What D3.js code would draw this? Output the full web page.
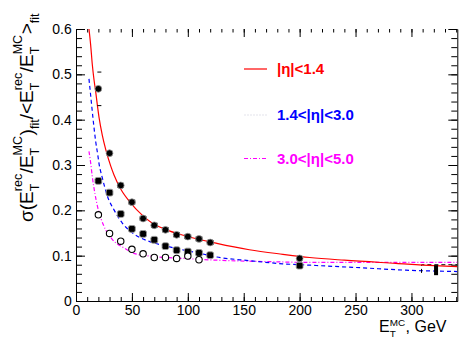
<!DOCTYPE html>
<html><head><meta charset="utf-8">
<script src="https://cdn.jsdelivr.net/npm/d3@7"></script>
<style>
html,body{margin:0;padding:0;background:#fff;}
svg{display:block;font-family:"Liberation Sans",Arial,sans-serif;}
</style></head>
<body>
<script>
// ---------------- data ----------------
const xTickLabels = [0, 50, 100, 150, 200, 250, 300];
const yTickLabels = [0, 0.1, 0.2, 0.3, 0.4, 0.5, 0.6];
const seriesNames = ["|η|<1.4", "1.4<|η|<3.0", "3.0<|η|<5.0"];

// |eta|<1.4 (filled circles)
const centralE     = [20, 30, 40, 50, 60, 70, 80, 90, 100, 110, 120, 200];
const centralSigma = [0.468, 0.326, 0.255, 0.218, 0.182, 0.167, 0.157, 0.146, 0.142, 0.137, 0.129, 0.094];
const centralEerr  = [0, 0, 2.5, 2.5, 2.5, 2.5, 2.5, 2.5, 2.5, 2.5, 2.5, 0];
const centralSerrFirst = 0.037;
// 1.4<|eta|<3.0 (filled squares)
const endcapE      = [20, 30, 40, 50, 60, 70, 80, 90, 100, 110, 120, 200];
const endcapSigma  = [0.265, 0.239, 0.192, 0.159, 0.148, 0.135, 0.121, 0.112, 0.109, 0.106, 0.101, 0.078];
// 3.0<|eta|<5.0 (open circles)
const forwardE     = [20, 30, 40, 50, 60, 70, 80, 90, 100, 110];
const forwardSigma = [0.190, 0.149, 0.132, 0.114, 0.104, 0.096, 0.096, 0.094, 0.099, 0.091];
// point near the right edge
const extraE = [322];
const extraSigma = [0.068];
const boxEdges = [309, 341];
const boxLevels = [0.062, 0.080];

// fitted curves
const centralFitE = [11.6,13.1,14.6,16.1,17.6,19.1,20.6,23.5,26.5,31,34,40,49,59,68,81,96,126,155,185,209,240,286,320,341];
const centralFitS = [0.600,0.565,0.521,0.488,0.462,0.432,0.405,0.366,0.335,0.298,0.278,0.247,0.216,0.190,0.172,0.157,0.145,0.127,0.113,0.103,0.096,0.090,0.083,0.078,0.076];
const endcapFitE  = [11.6,13.1,15.5,17.6,19.5,20.6,23.5,28,34,41.4,49,58,66,81,96,111,126,155,185,209,250,295,341];
const endcapFitS  = [0.490,0.454,0.396,0.352,0.322,0.303,0.272,0.232,0.201,0.172,0.153,0.139,0.131,0.121,0.1125,0.105,0.097,0.089,0.082,0.079,0.074,0.068,0.065];
const forwardFitE = [11.6,13.1,14.6,17,19.1,25,32.4,43,52,66,96,126,170,212,341];
const forwardFitS = [0.330,0.305,0.274,0.236,0.210,0.165,0.136,0.117,0.105,0.099,0.094,0.090,0.087,0.085,0.085];

// ---------------- chart ----------------
const W = 470, H = 345;
const L = 76, R = 457.3, T = 29, B = 301;
const svg = d3.select("body").append("svg").attr("width", W).attr("height", H);
const x = d3.scaleLinear().domain([0, 341]).range([L, R]);
const y = d3.scaleLinear().domain([0, 0.6]).range([B, T]);

const red = "#ff0000", blue = "#0000ff", mag = "#ff00ff";

svg.append("defs").append("clipPath").attr("id", "clip")
  .append("rect").attr("x", L).attr("y", T).attr("width", R - L).attr("height", B - T);

const xMinor = d3.range(0, 341, 10);
const yMinor = d3.range(0, 0.6001, 0.02);
function styleAxis(g){ g.selectAll("path,line").attr("stroke","#000").attr("stroke-width",1); g.selectAll("text").attr("fill","#000").style("font-size","14px").style("font-family","Liberation Sans, Arial, sans-serif"); }

svg.append("g").attr("transform", `translate(0,${B})`)
  .call(d3.axisBottom(x).tickValues(xMinor).tickSize(-4).tickSizeOuter(0).tickFormat(""))
  .call(styleAxis);
svg.append("g").attr("transform", `translate(0,${B})`)
  .call(d3.axisBottom(x).tickValues(xTickLabels).tickSize(-8).tickSizeOuter(0).tickPadding(4).tickFormat(d3.format("d")))
  .call(styleAxis).call(g => g.select(".domain").remove());
svg.append("g").attr("transform", `translate(0,${T})`)
  .call(d3.axisTop(x).tickValues(xMinor).tickSize(-3.5).tickFormat(""))
  .call(styleAxis).call(g => g.select(".domain").remove());
svg.append("g").attr("transform", `translate(0,${T})`)
  .call(d3.axisTop(x).tickValues(xTickLabels).tickSize(-8).tickFormat(""))
  .call(styleAxis).call(g => g.select(".domain").remove());
svg.append("g").attr("transform", `translate(${L},0)`)
  .call(d3.axisLeft(y).tickValues(yMinor).tickSize(-6).tickSizeOuter(0).tickFormat(""))
  .call(styleAxis);
svg.append("g").attr("transform", `translate(${L},0)`)
  .call(d3.axisLeft(y).tickValues(yTickLabels).tickSize(-9).tickSizeOuter(0).tickPadding(4.3).tickFormat(d => d === 0 ? "0" : d3.format(".1f")(d)))
  .call(styleAxis).call(g => g.select(".domain").remove());
svg.append("g").attr("transform", `translate(${R},0)`)
  .call(d3.axisRight(y).tickValues(yMinor).tickSize(-6).tickSizeOuter(0).tickFormat(""))
  .call(styleAxis);
svg.append("g").attr("transform", `translate(${R},0)`)
  .call(d3.axisRight(y).tickValues(yTickLabels).tickSize(-9).tickSizeOuter(0).tickFormat(""))
  .call(styleAxis).call(g => g.select(".domain").remove());

const plot = svg.append("g").attr("clip-path", "url(#clip)");
const line = d3.line().x(d => x(d[0])).y(d => y(d[1])).curve(d3.curveMonotoneX);
function curve(E, S, color, dash){
  plot.append("path").datum(E.map((e, i) => [e, S[i]]))
    .attr("d", line).attr("fill", "none").attr("stroke", color)
    .attr("stroke-width", 1.2).attr("stroke-dasharray", dash);
}
curve(forwardFitE, forwardFitS, mag, "4,2,1,2");
curve(endcapFitE, endcapFitS, blue, "4,3");

plot.append("path")
  .attr("d", `M${x(boxEdges[0])},${y(boxLevels[0])}V${y(boxLevels[1])}H${x(boxEdges[1])}`)
  .attr("fill", "none").attr("stroke", "#000").attr("stroke-width", 1).attr("stroke-dasharray", "4,3");

curve(centralFitE, centralFitS, red, null);

plot.selectAll(".sq").data(endcapE.map((e, i) => [e, endcapSigma[i]])).join("rect")
  .attr("x", d => x(d[0]) - 3.4).attr("y", d => y(d[1]) - 3.4)
  .attr("width", 6.8).attr("height", 6.8).attr("rx", 1.8)
  .attr("fill", "#000").attr("stroke", "#999").attr("stroke-width", 0.9);
plot.selectAll(".oc").data(forwardE.map((e, i) => [e, forwardSigma[i]])).join("circle")
  .attr("cx", d => x(d[0])).attr("cy", d => y(d[1])).attr("r", 3.2)
  .attr("fill", "#fff").attr("stroke", "#000").attr("stroke-width", 1.1);
const cdat = centralE.map((e, i) => [e, centralSigma[i], centralEerr[i]]);
const eb = plot.append("g").attr("stroke", "#000").attr("stroke-width", 1);
cdat.filter(d => d[2] > 0).forEach(d => {
  const x0 = x(d[0] - d[2]), x1 = x(d[0] + d[2]), yy = y(d[1]);
  eb.append("line").attr("x1", x0).attr("x2", x1).attr("y1", yy).attr("y2", yy);
  eb.append("line").attr("x1", x0).attr("x2", x0).attr("y1", yy - 2.5).attr("y2", yy + 2.5);
  eb.append("line").attr("x1", x1).attr("x2", x1).attr("y1", yy - 2.5).attr("y2", yy + 2.5);
});
[centralSigma[0] + centralSerrFirst, centralSigma[0] - centralSerrFirst].forEach(s => {
  eb.append("line").attr("x1", x(centralE[0]) - 1).attr("x2", x(centralE[0]) + 3)
    .attr("y1", y(s)).attr("y2", y(s));
});
plot.selectAll(".fc").data(cdat).join("circle")
  .attr("cx", d => x(d[0])).attr("cy", d => y(d[1])).attr("r", 3.4)
  .attr("fill", "#000").attr("stroke", "#999").attr("stroke-width", 0.8);
plot.selectAll(".ex").data(extraE.map((e, i) => [e, extraSigma[i]])).join("rect")
  .attr("x", d => x(d[0]) - 2).attr("y", d => y(d[1]) - 5)
  .attr("width", 4).attr("height", 10).attr("fill", "#000");

const legend = [
  {name: seriesNames[0], color: red, dash: null, y: 69, lineColor: red},
  {name: seriesNames[1], color: blue, dash: "2,1", y: 115, lineColor: "#e4e4ec"},
  {name: seriesNames[2], color: mag, dash: "4,2,1,2", y: 158.5, lineColor: mag}
];
legend.forEach(l => {
  svg.append("line").attr("x1", 244).attr("x2", 267).attr("y1", l.y).attr("y2", l.y)
    .attr("stroke", l.lineColor).attr("stroke-width", 1.2).attr("stroke-dasharray", l.dash);
  svg.append("text").attr("x", 277).attr("y", l.y).attr("dy", "0.36em")
    .attr("fill", l.color).style("font-size", "15px").style("font-weight", "bold").text(l.name);
});

function rich(g, items, size, supOff, subOff, ratio){
  let pos = 0;
  const small = size * ratio;
  const add = (txt, px, py, fs) => g.append("text").attr("x", px).attr("y", py).style("font-size", fs + "px").attr("fill", "#000").text(txt);
  items.forEach(it => {
    if (it[0] === "m") { const t = add(it[1], pos, 0, size); pos += t.node().getComputedTextLength(); }
    else if (it[0] === "ss") {
      const a = add(it[1], pos, size * subOff, small);
      const b = add(it[2], pos, -size * supOff, small);
      pos += Math.max(a.node().getComputedTextLength(), b.node().getComputedTextLength()) + 0.5;
    } else if (it[0] === "s") { const t = add(it[1], pos, size * subOff, small); pos += t.node().getComputedTextLength(); }
  });
  return pos;
}
const yl = svg.append("g").attr("transform", "translate(33,222) rotate(-90)");
rich(yl, [["m","σ("],["m","E"],["ss","T","rec"],["m","/E"],["ss","T","MC"],["m",")"],["s","fit"],
          ["m","/<E"],["ss","T","rec"],["m","/E"],["ss","T","MC"],["m",">"],["s","fit"]], 19, 0.58, 0.3, 0.66);
const xl = svg.append("g").attr("transform", "translate(379,332)");
rich(xl, [["m","E"],["ss","T","MC"],["m",", GeV"]], 16, 0.4, 0.33, 0.62);
</script>
</body></html>
